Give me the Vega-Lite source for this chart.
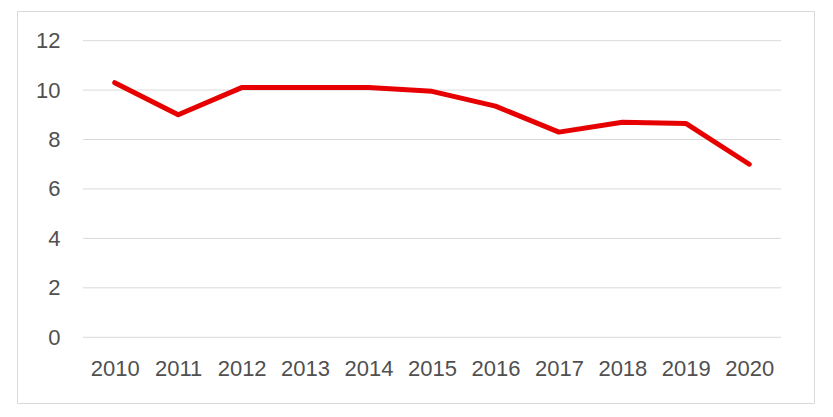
{
  "$schema": "https://vega.github.io/schema/vega-lite/v6.json",
  "width": 797,
  "height": 392,
  "autosize": {"type": "none"},
  "padding": {"left": 17, "top": 11, "right": 19, "bottom": 14},
  "background": "white",
  "config": {
    "view": {"stroke": "#d9d9d9", "strokeWidth": 1},
    "axis": {"labelFont": "Liberation Sans", "labelFontSize": 22, "labelColor": "#505050"}
  },
  "datasets": {
    "series": [
      {"year": 2010, "value": 10.3},
      {"year": 2011, "value": 9.0},
      {"year": 2012, "value": 10.1},
      {"year": 2013, "value": 10.1},
      {"year": 2014, "value": 10.1},
      {"year": 2015, "value": 9.95},
      {"year": 2016, "value": 9.35},
      {"year": 2017, "value": 8.3},
      {"year": 2018, "value": 8.7},
      {"year": 2019, "value": 8.65},
      {"year": 2020, "value": 7.0}
    ],
    "grid": [{"g": 0}, {"g": 2}, {"g": 4}, {"g": 6}, {"g": 8}, {"g": 10}, {"g": 12}]
  },
  "layer": [
    {
      "data": {"name": "grid"},
      "mark": {"type": "rule", "color": "#d9d9d9", "strokeWidth": 1},
      "encoding": {
        "x": {"datum": 2009.5, "type": "quantitative"},
        "x2": {"datum": 2020.5},
        "y": {"field": "g", "type": "quantitative"}
      }
    },
    {
      "data": {"name": "series"},
      "mark": {"type": "line", "color": "#e60000", "strokeWidth": 5, "strokeCap": "round", "strokeJoin": "round"},
      "encoding": {
        "x": {
          "field": "year",
          "type": "quantitative",
          "scale": {"domain": [2008.46, 2021.02], "nice": false, "zero": false},
          "axis": {"values": [2010, 2011, 2012, 2013, 2014, 2015, 2016, 2017, 2018, 2019, 2020], "format": "d", "title": null, "grid": false, "domain": false, "ticks": false, "offset": -66, "labelBaseline": "middle", "labelPadding": 31}
        },
        "y": {
          "field": "value",
          "type": "quantitative",
          "scale": {"domain": [-2.66, 13.2], "nice": false, "zero": false},
          "axis": {"values": [0, 2, 4, 6, 8, 10, 12], "title": null, "grid": false, "domain": false, "ticks": false, "offset": -66, "labelPadding": 23}
        }
      }
    }
  ]
}
